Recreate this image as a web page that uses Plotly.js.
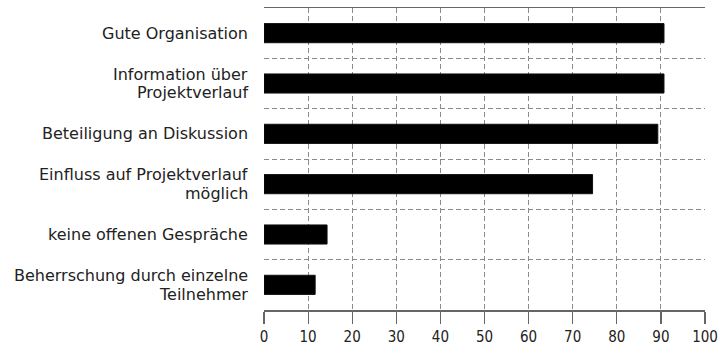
<!DOCTYPE html>
<html>
<head>
<meta charset="utf-8">
<script src="https://cdn.plot.ly/plotly-3.0.1.min.js"></script>
<style>html,body{margin:0;padding:0;background:#fff;}#chart{width:719px;height:346px;}</style>
</head>
<body>
<div id="chart"></div>
<script>
// Categories, top to bottom ("\n" marks a line break in the label)
const categories = [
  "Gute Organisation",
  "Information über\nProjektverlauf",
  "Beteiligung an Diskussion",
  "Einfluss auf Projektverlauf\nmöglich",
  "keine offenen Gespräche",
  "Beherrschung durch einzelne\nTeilnehmer"
];
// Percentages
const values = [90.7, 90.7, 89.3, 74.5, 14.3, 11.6];
const xTicks = [0, 10, 20, 30, 40, 50, 60, 70, 80, 90, 100];

const LABEL_FONT = "DejaVu Sans, sans-serif";
const TICK_FONT = "DejaVu Sans Condensed, DejaVu Sans, sans-serif";
const LABEL_SIZE = 16;
const LINE_PITCH = 18.7;

const annotations = [];
categories.forEach(function (cat) {
  const lines = cat.split("\n");
  const n = lines.length;
  lines.forEach(function (ln, i) {
    annotations.push({
      xref: "paper", yref: "y",
      x: 0, y: cat,
      xanchor: "right", yanchor: "middle",
      xshift: -14,
      yshift: ((n - 1) / 2 - i) * LINE_PITCH,
      text: ln, showarrow: false,
      font: {family: LABEL_FONT, size: LABEL_SIZE, color: "#222"}
    });
  });
});

const trace = {
  type: "bar",
  orientation: "h",
  y: categories,
  x: values,
  width: 0.38,
  marker: {color: "#000", line: {color: "#111", width: 1}},
  hoverinfo: "skip"
};

const layout = {
  width: 719, height: 346,
  margin: {l: 264, r: 14, t: 8, b: 36},
  paper_bgcolor: "#fff", plot_bgcolor: "#fff",
  showlegend: false,
  font: {family: TICK_FONT, size: 15, color: "#222"},
  xaxis: {
    range: [0, 100],
    tickvals: xTicks,
    ticktext: xTicks.map(String),
    ticks: "outside", ticklen: 12, tickwidth: 1.2, tickcolor: "#666",
    showline: true, linecolor: "#666", linewidth: 1.5, mirror: true,
    showgrid: true, gridcolor: "#8a8a8a", gridwidth: 1, griddash: "5px,3px",
    zeroline: false,
    tickfont: {family: TICK_FONT, size: 15, color: "#222"}
  },
  yaxis: {
    type: "category",
    categoryorder: "array", categoryarray: categories,
    range: [5.5, -0.5],
    tickson: "boundaries",
    showticklabels: false, ticks: "",
    showgrid: true, gridcolor: "#8a8a8a", gridwidth: 1, griddash: "5px,3px",
    showline: false, zeroline: false
  },
  annotations: annotations
};

Plotly.newPlot("chart", [trace], layout, {displayModeBar: false, staticPlot: true});
</script>
</body>
</html>
